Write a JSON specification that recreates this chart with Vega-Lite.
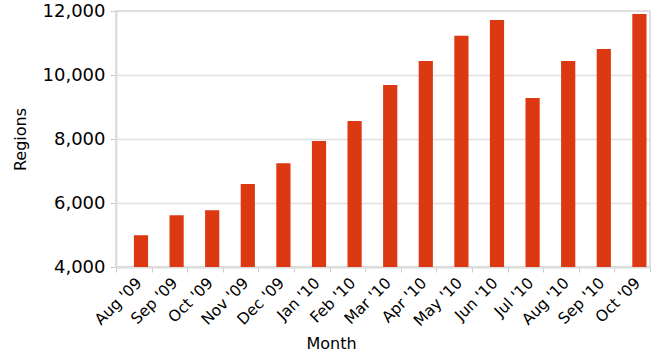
{
  "$schema": "https://vega.github.io/schema/vega-lite/v6.json",
  "width": 534,
  "height": 256,
  "autosize": {"type": "none"},
  "padding": {"left": 116, "top": 11, "right": 12, "bottom": 93},
  "background": "white",
  "data": {
    "values": [
      {"Month": "Aug '09", "Regions": 4990},
      {"Month": "Sep '09", "Regions": 5615},
      {"Month": "Oct '09", "Regions": 5775},
      {"Month": "Nov '09", "Regions": 6590},
      {"Month": "Dec '09", "Regions": 7245},
      {"Month": "Jan '10", "Regions": 7935},
      {"Month": "Feb '10", "Regions": 8563},
      {"Month": "Mar '10", "Regions": 9690},
      {"Month": "Apr '10", "Regions": 10437},
      {"Month": "May '10", "Regions": 11229},
      {"Month": "Jun '10", "Regions": 11719},
      {"Month": "Jul '10", "Regions": 9281},
      {"Month": "Aug '10", "Regions": 10437},
      {"Month": "Sep '10", "Regions": 10812},
      {"Month": "\u200bOct '09", "Regions": 11906}
    ]
  },
  "config": {
    "font": "DejaVu Sans",
    "view": {"stroke": "#dddddd", "strokeWidth": 2},
    "axis": {
      "domainColor": "#dddddd",
      "domainWidth": 2,
      "tickColor": "#cccccc",
      "gridColor": "#e0e0e0",
      "gridWidth": 1.5,
      "labelColor": "#000000",
      "titleColor": "#000000",
      "labelFont": "DejaVu Sans",
      "titleFont": "DejaVu Sans",
      "titleFontWeight": "normal"
    }
  },
  "mark": {"type": "bar", "color": "#DC3912", "clip": true, "width": 14.2, "xOffset": 7.2},
  "encoding": {
    "x": {
      "field": "Month",
      "type": "nominal",
      "sort": null,
      "scale": {"paddingInner": 0, "paddingOuter": 0},
      "axis": {
        "title": "Month",
        "labelAngle": -45,
        "labelFontSize": 15.5,
        "labelPadding": 3,
        "labelOffset": 0,
        "tickBand": "extent",
        "tickSize": 5,
        "titleFontSize": 16,
        "titleX": 215,
        "titleY": 81,
        "titleBaseline": "alphabetic",
        "titleAnchor": "middle",
        "grid": false
      }
    },
    "y": {
      "field": "Regions",
      "type": "quantitative",
      "scale": {"domain": [4000, 12000], "zero": false, "nice": false},
      "axis": {
        "title": "Regions",
        "values": [4000, 6000, 8000, 10000, 12000],
        "format": ",d",
        "labelFontSize": 18,
        "labelPadding": 5,
        "tickSize": 6,
        "titleFontSize": 16,
        "titlePadding": 14,
        "grid": true
      }
    }
  }
}
